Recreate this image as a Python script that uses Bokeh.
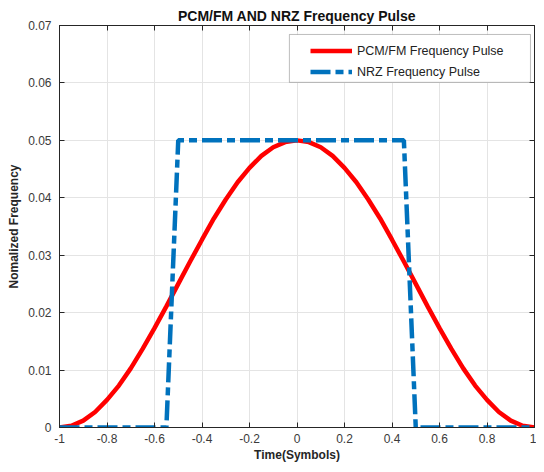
from bokeh.plotting import figure
from bokeh.models import (FixedTicker, LinearAxis, Range1d, Legend, LegendItem,
                          BoxAnnotation, CustomJSTickFormatter)
from bokeh.embed import file_html
from bokeh.resources import INLINE

# ---------------- data ----------------
t_pcm = [-1.0, -0.95, -0.9, -0.85, -0.8, -0.75, -0.7, -0.65, -0.6, -0.55, -0.5,
         -0.45, -0.4, -0.35, -0.3, -0.25, -0.2, -0.15, -0.1, -0.05, 0.0,
         0.05, 0.1, 0.15, 0.2, 0.25, 0.3, 0.35, 0.4, 0.45, 0.5,
         0.55, 0.6, 0.65, 0.7, 0.75, 0.8, 0.85, 0.9, 0.95, 1.0]
f_pcm = [0.0, 0.0003, 0.0012, 0.0027, 0.0048, 0.0073, 0.0103, 0.0137, 0.0173, 0.0211, 0.025,
         0.0289, 0.0327, 0.0364, 0.0397, 0.0427, 0.0452, 0.0473, 0.0488, 0.0497, 0.05,
         0.0497, 0.0488, 0.0473, 0.0452, 0.0427, 0.0397, 0.0364, 0.0327, 0.0289, 0.025,
         0.0211, 0.0173, 0.0137, 0.0103, 0.0073, 0.0048, 0.0027, 0.0012, 0.0003, 0.0]

t_nrz = [-1.0, -0.55, -0.5, 0.45, 0.5, 1.0]
f_nrz = [0.0, 0.0, 0.05, 0.05, 0.0, 0.0]

x_ticks = [-1, -0.8, -0.6, -0.4, -0.2, 0, 0.2, 0.4, 0.6, 0.8, 1]
x_tick_labels = ["-1", "-0.8", "-0.6", "-0.4", "-0.2", "0", "0.2", "0.4", "0.6", "0.8", "1"]
y_ticks = [0, 0.01, 0.02, 0.03, 0.04, 0.05, 0.06, 0.07]
y_tick_labels = ["0", "0.01", "0.02", "0.03", "0.04", "0.05", "0.06", "0.07"]

title_text = "PCM/FM AND NRZ Frequency Pulse"
x_label = "Time(Symbols)"
y_label = "Nomalized Frequency"
series_names = ["PCM/FM Frequency Pulse", "NRZ Frequency Pulse"]

# ---------------- styling ----------------
FONT = "Liberation Sans"
AX = "#262626"
LBL = "#3a3a3a"

p = figure(width=536, height=464, output_backend="svg", toolbar_location=None,
           x_range=Range1d(-1, 1), y_range=Range1d(0, 0.07),
           min_border_left=59, min_border_right=2, min_border_bottom=36,
           min_border_top=25)

p.title.text = title_text
p.title.align = "center"
p.title.text_font = FONT
p.title.text_font_size = "14px"
p.title.text_font_style = "bold"
p.title.text_color = "#111111"
p.title.standoff = 3
p.title.offset = 0

p.outline_line_color = AX
p.outline_line_width = 1
p.background_fill_color = "white"
p.border_fill_color = "white"

for ax in (p.xaxis[0], p.yaxis[0]):
    ax.axis_line_color = AX
    ax.major_tick_line_color = AX
    ax.major_tick_in = 5
    ax.major_tick_out = 0
    ax.minor_tick_line_color = None
    ax.major_label_text_font = FONT
    ax.major_label_text_font_size = "12px"
    ax.major_label_text_color = LBL
    ax.axis_label_text_font = FONT
    ax.axis_label_text_font_size = "12px"
    ax.axis_label_text_font_style = "bold"
    ax.axis_label_text_color = AX

p.xaxis.ticker = FixedTicker(ticks=x_ticks)
p.xaxis.major_label_overrides = dict(zip(x_ticks, x_tick_labels))
p.xaxis.axis_label = x_label
p.xaxis.major_label_standoff = 6
p.xaxis.axis_label_standoff = 2

p.yaxis.ticker = FixedTicker(ticks=y_ticks)
p.yaxis.major_label_overrides = dict(zip(y_ticks, y_tick_labels))
p.yaxis.axis_label = y_label
p.yaxis.major_label_standoff = 8
p.yaxis.axis_label_standoff = 4

# box ticks on top and right (no labels)
blank = CustomJSTickFormatter(code="return '';")
top_ax = LinearAxis(ticker=FixedTicker(ticks=x_ticks), formatter=blank,
                    major_label_standoff=0, major_tick_in=5, major_tick_out=0,
                    minor_tick_line_color=None, axis_line_color=AX,
                    major_tick_line_color=AX)
right_ax = LinearAxis(ticker=FixedTicker(ticks=y_ticks), formatter=blank,
                      major_label_standoff=0, major_tick_in=5, major_tick_out=0,
                      minor_tick_line_color=None, axis_line_color=AX,
                      major_tick_line_color=AX)
p.add_layout(top_ax, "above")
p.add_layout(right_ax, "right")

p.xgrid.ticker = FixedTicker(ticks=x_ticks)
p.ygrid.ticker = FixedTicker(ticks=y_ticks)
p.grid.grid_line_color = "#e4e4e4"
p.grid.grid_line_width = 1

# legend frame (white box with border)
legend_box = BoxAnnotation(left=-0.032, right=0.983, top=0.06844, bottom=0.0601,
                           fill_color="white", fill_alpha=1.0,
                           line_color=AX, line_width=1, level="annotation")
p.add_layout(legend_box)

r_pcm = p.line(t_pcm, f_pcm, line_color="#ff0000", line_width=4.5)
r_nrz = p.line(t_nrz, f_nrz, line_color="#0072bd", line_width=4.5,
               line_dash="20 5 8 5")

legend = Legend(items=[LegendItem(label=series_names[0], renderers=[r_pcm]),
                       LegendItem(label=series_names[1], renderers=[r_nrz])],
                location=(249, 343), padding=2, spacing=0,
                glyph_width=42, glyph_height=21, label_height=21,
                label_standoff=5, label_text_font=FONT,
                label_text_font_size="12.5px", label_text_color="#222222",
                border_line_alpha=0, background_fill_alpha=0,
                margin=0)
p.add_layout(legend, "center")

open("out.html", "w").write(file_html(p, INLINE))
